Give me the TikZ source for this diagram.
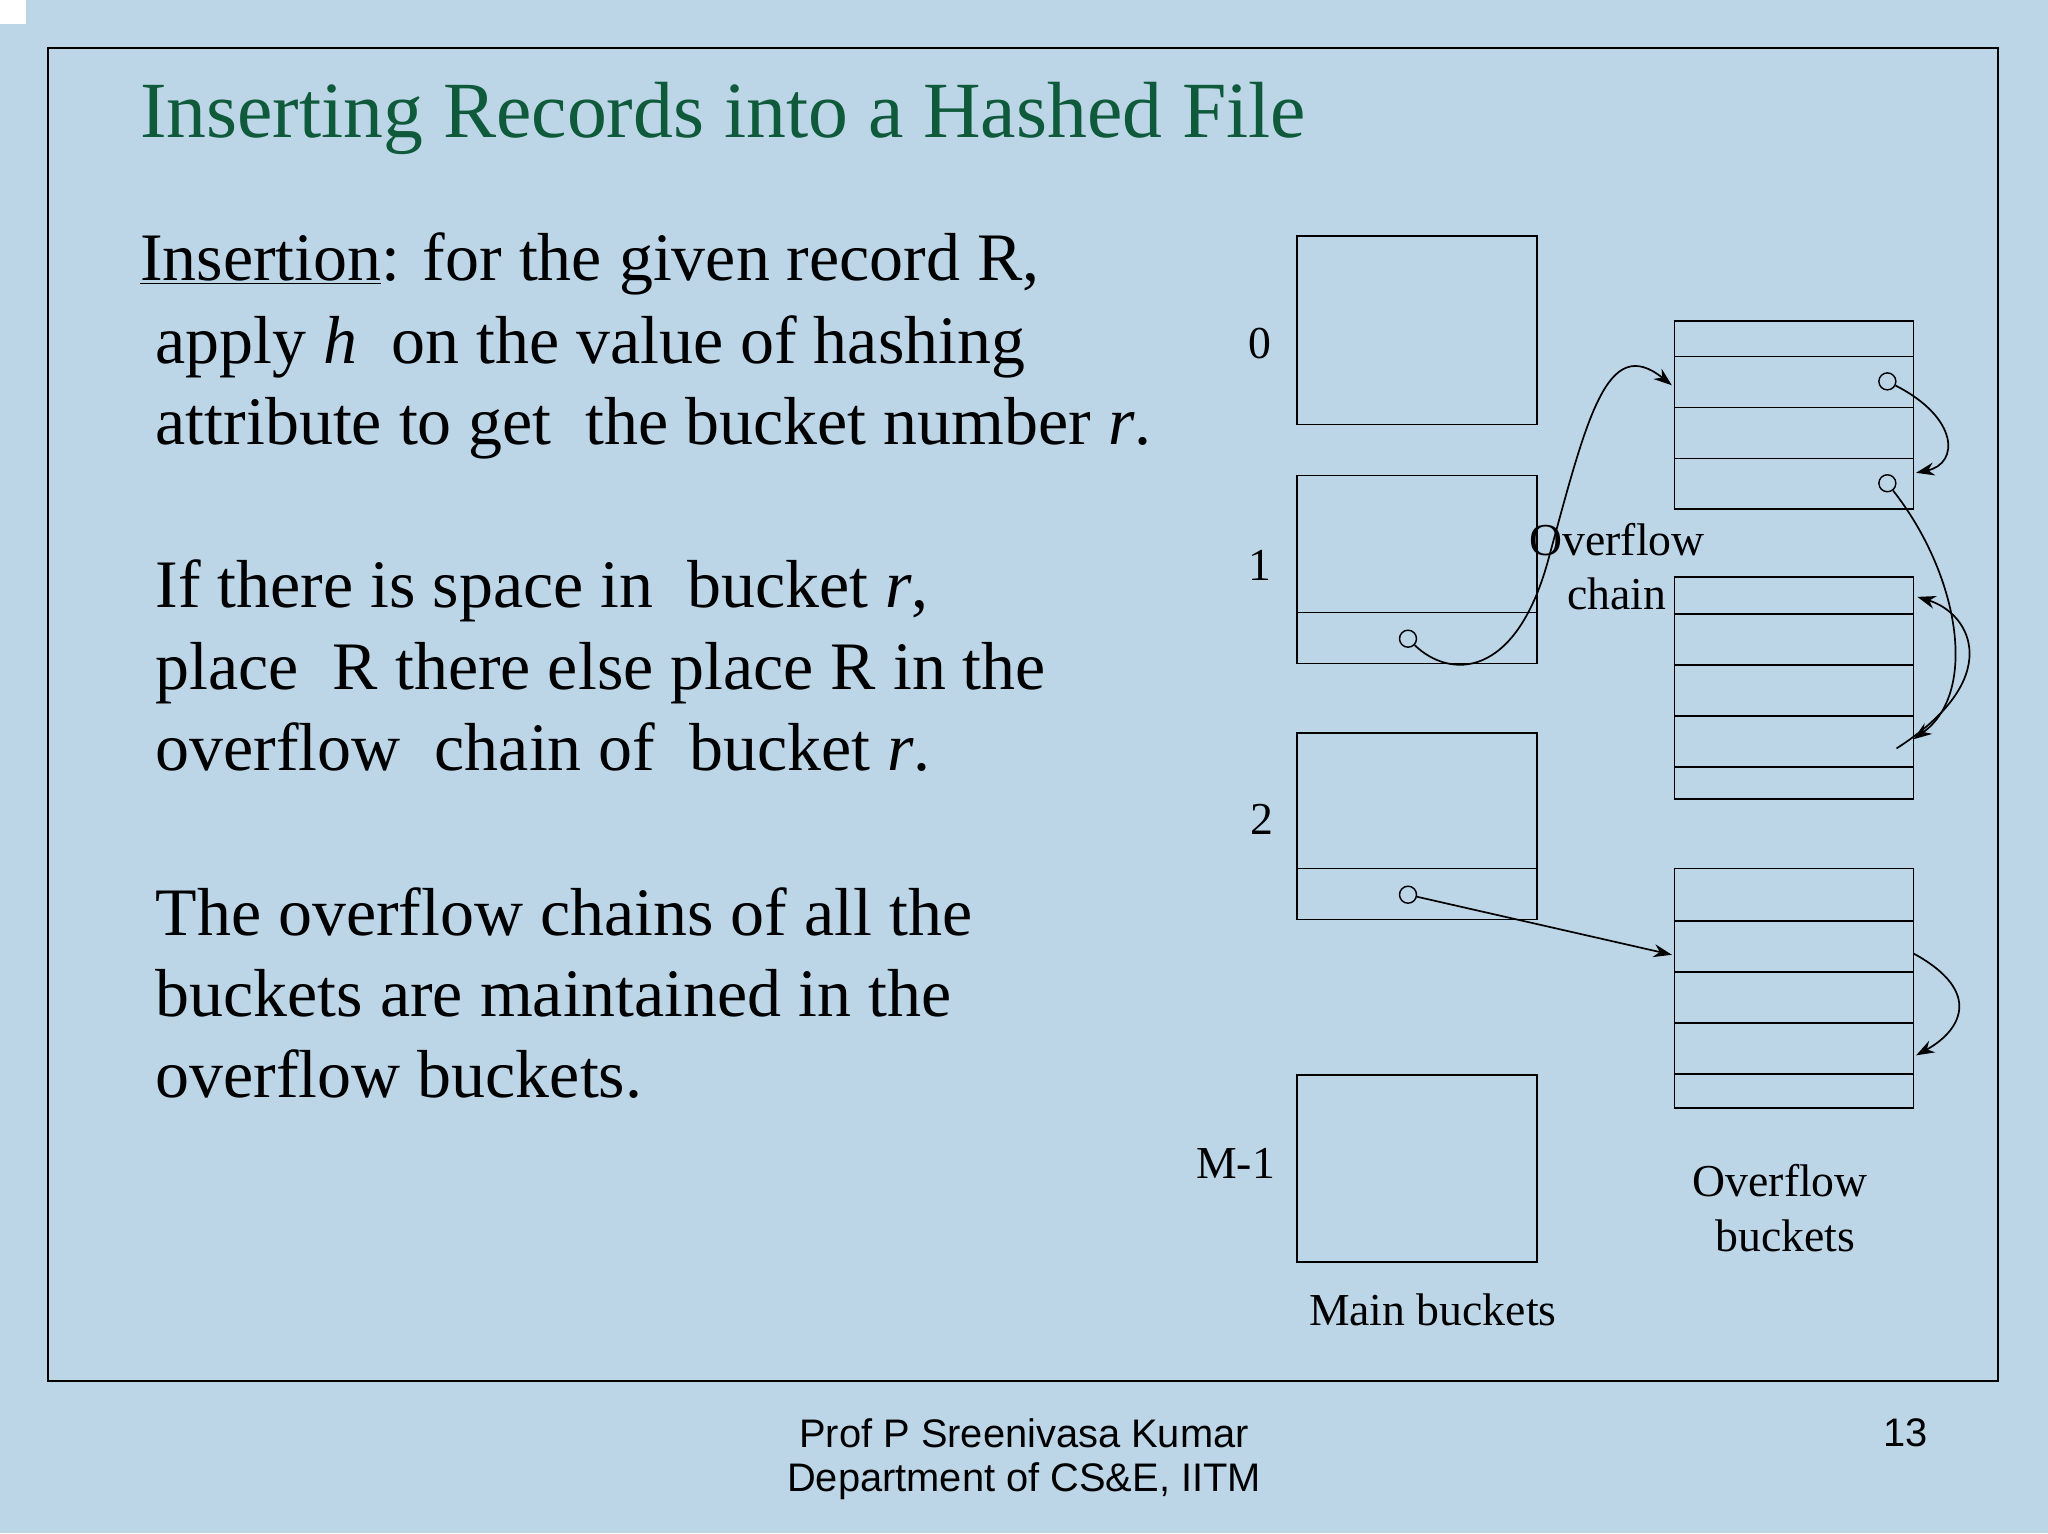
\documentclass[tikz,border=0pt]{standalone}
\usepackage{fontspec}
\setmainfont{Liberation Serif}
\newfontfamily\footfont{Liberation Sans}
\usetikzlibrary{arrows.meta}
\definecolor{bg}{HTML}{BCD6E8}
\definecolor{ttl}{HTML}{0E5A3A}
\tikzset{
 box/.style={draw=black,line width=1.4pt},
 bt/.style={anchor=base west,inner sep=0pt,font=\fontsize{52}{52}\selectfont},
 lab/.style={inner sep=0pt,font=\fontsize{35}{35}\selectfont},
 con/.style={line width=1.3pt,-{Stealth[length=14pt,width=10pt]}},
 hole/.style={draw,circle,line width=1.1pt,minimum size=13pt,inner sep=0pt}
}
\begin{document}
\begin{tikzpicture}[x=1pt,y=-1pt]
\fill[bg] (0,0) rectangle (1568,1174);
\useasboundingbox (0,0) rectangle (1568,1174);
\fill[white] (0,0) rectangle (20,18);
\draw[line width=1.4pt] (37,37) rectangle (1530,1057);
\node[anchor=base west,inner sep=0pt,text=ttl,font=\fontsize{61}{61}\selectfont] (title) at (107,105) {Inserting Records into a Hashed File};
\node[bt] (l1) at (107,215) {\underline{Insertion}: for the given record R,};
\node[bt] (l2) at (119,278) {apply \textit{h}\ \ on the value of hashing};
\node[bt] (l3) at (119,340) {attribute to get\ \ the bucket number \textit{r}.};
\node[bt] (l4) at (119,465) {If there is space in\ \ bucket \textit{r},};
\node[bt] (l5) at (119,528) {place\ \ R there else place R in the};
\node[bt] (l6) at (119,590) {overflow\ \ chain of\ \ bucket \textit{r}.};
\node[bt] (l7) at (119,716) {The overflow chains of all the};
\node[bt] (l8) at (119,778) {buckets are maintained in the};
\node[bt] (l9) at (119,840) {overflow buckets.};
% main buckets
\draw[box] (993,181) rectangle (1177,325);
\draw[box] (993,364) rectangle (1177,508); \draw[box] (993,469) -- (1177,469);
\draw[box] (993,561) rectangle (1177,704); \draw[box] (993,665) -- (1177,665);
\draw[box] (993,823) rectangle (1177,966);
\node[lab] (n0) at (965,263) {0};
\node[lab] (n1) at (965,433) {1};
\node[lab] (n2) at (966,627) {2};
\node[lab] (nm) at (946,891) {M-1};
\node[lab] (mb) at (1097,1003) {Main buckets};
% overflow buckets
\draw[box] (1282,246) rectangle (1465,390);
\foreach \y in {273,312,351} \draw[box] (1282,\y) -- (1465,\y);
\draw[box] (1282,442) rectangle (1465,612);
\foreach \y in {470,509,548,587} \draw[box] (1282,\y) -- (1465,\y);
\draw[box] (1282,665) rectangle (1465,848);
\foreach \y in {705,744,783,822} \draw[box] (1282,\y) -- (1465,\y);
\node[lab] (ob) at (1363,904) {Overflow};
\node[lab] (ob2) at (1367,946) {buckets};
\node[lab] (oc) at (1238,413) {Overflow};
\node[lab] (oc2) at (1238,455) {chain};
% holes
\node[hole] (h1) at (1078,489) {};
\node[hole] (h2) at (1078,685) {};
\node[hole] (h3) at (1445,292) {};
\node[hole] (h4) at (1445,370) {};
\coordinate (t1) at (1280,295);
\coordinate (t2) at (1280,731);
\coordinate (t3) at (1467,362);
\coordinate (t4) at (1465,566);
\coordinate (s5) at (1452,573);
\coordinate (t5) at (1468,457);
\coordinate (s6) at (1465,730);
\coordinate (t6) at (1467,808);
\draw[con] (h1) .. controls (1110,520) and (1160,520) .. (1185,430) .. controls (1215,320) and (1230,255) .. (t1);
\draw[con] (h2) -- (t2);
\draw[con] (h3) .. controls (1500,320) and (1500,355) .. (t3);
\draw[con] (h4) .. controls (1500,440) and (1515,530) .. (t4);
\draw[con] (s5) .. controls (1535,520) and (1510,470) .. (t5);
\draw[con] (s6) .. controls (1520,760) and (1500,790) .. (t6);
% footer
\node[inner sep=0pt,font=\footfont\fontsize{30.5}{30.5}\selectfont] (f1) at (784,1097) {Prof P Sreenivasa Kumar};
\node[inner sep=0pt,font=\footfont\fontsize{30.5}{30.5}\selectfont] (f2) at (784,1134) {Department of CS\&E, IITM};
\node[inner sep=0pt,font=\footfont\fontsize{30.5}{30.5}\selectfont] (pg) at (1459,1097) {13};
\end{tikzpicture}
\end{document}
